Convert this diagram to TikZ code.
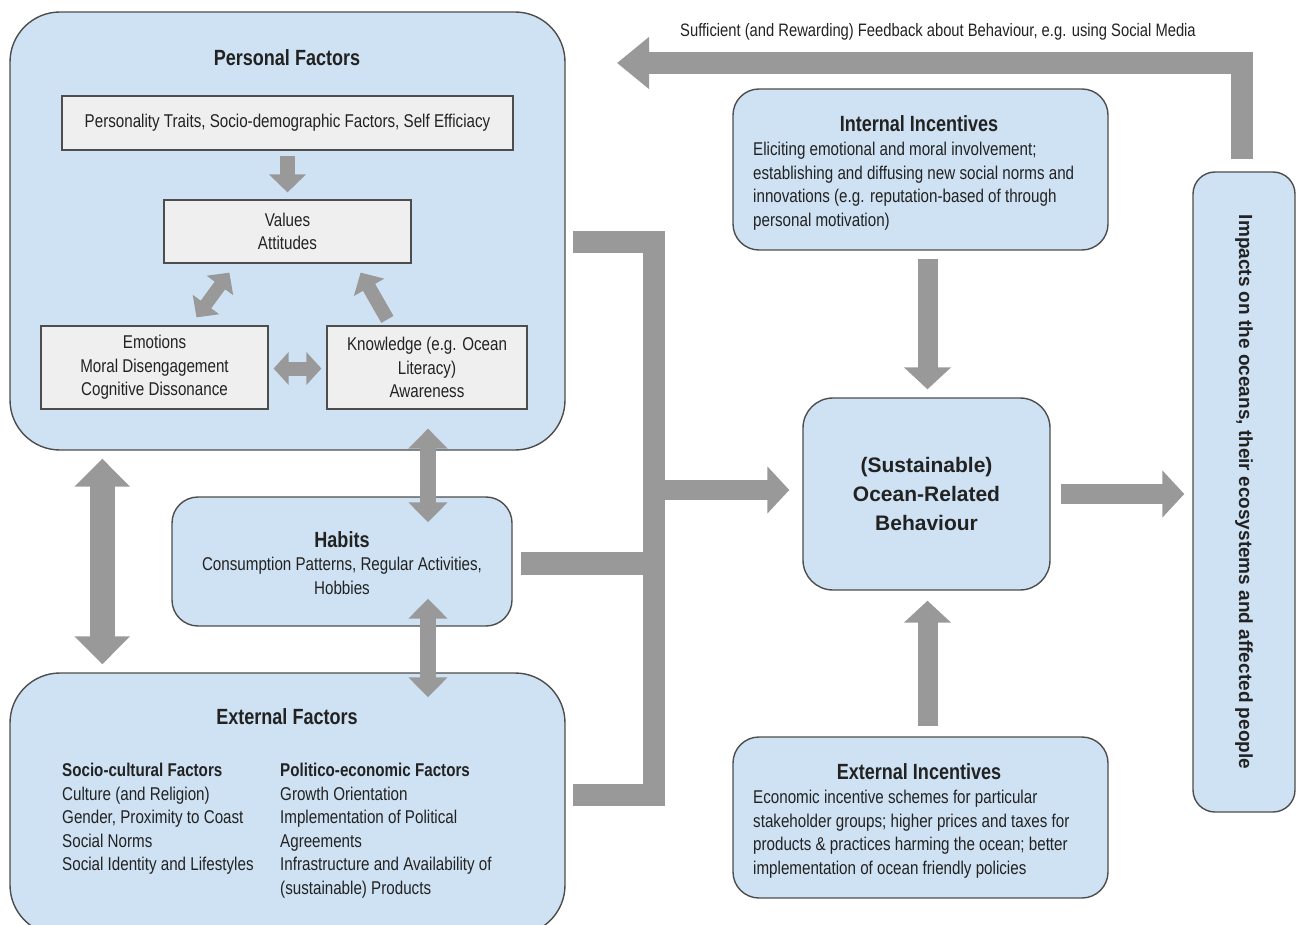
\documentclass[tikz,border=0pt]{standalone}
\usepackage{fontspec}
\setmainfont[FakeStretch=0.82]{Liberation Sans}
\newfontfamily\widefont{Liberation Sans}
\usetikzlibrary{arrows.meta,calc}
\definecolor{boxblue}{HTML}{CFE2F3}
\definecolor{boxline}{HTML}{4D4D4D}
\definecolor{innergray}{HTML}{EFEFEF}
\definecolor{arrgray}{HTML}{999999}
\definecolor{txt}{HTML}{222222}
\begin{document}
\begin{tikzpicture}[x=1pt,y=-1pt,
  bigbox/.style={draw=boxline,fill=boxblue,line width=1.4pt,rounded corners=50pt,inner sep=0pt},
  midbox/.style={draw=boxline,fill=boxblue,line width=1.4pt,rounded corners=26pt,inner sep=0pt},
  graybox/.style={draw=boxline,fill=innergray,line width=1.2pt,inner sep=0pt,align=center,text=txt,font=\fontsize{18.5}{23.5}\selectfont},
  body/.style={inner sep=0pt,text=txt,font=\fontsize{18.5}{23.5}\selectfont},
  ttl/.style={inner sep=0pt,text=txt,font=\bfseries\fontsize{22}{26}\selectfont},
  arr/.style={draw=arrgray,line width=20pt,-{Triangle[length=22pt,width=46pt]}},
  smallarr/.style={draw=arrgray,line width=15pt,-{Triangle[length=18pt,width=36pt]}},
  smalldarr/.style={draw=arrgray,line width=15pt,{Triangle[length=18pt,width=36pt]}-{Triangle[length=18pt,width=36pt]}},
  bar/.style={draw=arrgray,line width=22pt,line join=miter}
]
\useasboundingbox (0,0) rectangle (1301,925);
\begin{scope}
\clip (0,0) rectangle (1301,925);
% big boxes
\node[bigbox,minimum width=555pt,minimum height=438pt] (pers) at (287.5,231) {};
\node[bigbox,minimum width=555pt,minimum height=262pt] (ext) at (287.5,804) {};
\end{scope}
\node[ttl] (perst) at (287,58) {Personal Factors};
\node[graybox,minimum width=451pt,minimum height=54pt] (pt) at (287.5,123) {Personality Traits, Socio-demographic Factors, Self Efficiacy};
\node[graybox,minimum width=247pt,minimum height=63pt] (val) at (287.5,231.5) {Values\\Attitudes};
\node[graybox,minimum width=227pt,minimum height=83pt] (emo) at (154.5,367.5) {Emotions\\Moral Disengagement\\Cognitive Dissonance};
\node[graybox,minimum width=200pt,minimum height=83pt] (know) at (427,367.5) {Knowledge (e.g. Ocean\\Literacy)\\Awareness};

% habits
\node[midbox,minimum width=340pt,minimum height=129pt] (hab) at (342,561.5) {};
\node[ttl] (habt) at (342,540) {Habits};
\node[body,align=center] (habb) at (342,576) {Consumption Patterns, Regular Activities,\\Hobbies};

% external factors text
\node[ttl] (extt) at (287,717) {External Factors};
\node[body,align=left,anchor=north west] (soc) at (62,763) {\textbf{Socio-cultural Factors}\\Culture (and Religion)\\Gender, Proximity to Coast\\Social Norms\\Social Identity and Lifestyles};
\node[body,align=left,anchor=north west] (pol) at (280,763) {\textbf{Politico-economic Factors}\\Growth Orientation\\Implementation of Political\\Agreements\\Infrastructure and Availability of\\(sustainable) Products};

% incentives
\node[midbox,minimum width=375pt,minimum height=161pt] (inc) at (920.5,169.5) {};
\node[ttl] (inct) at (919,124) {Internal Incentives};
\node[body,align=left,anchor=north west] (incb) at (753,142) {Eliciting emotional and moral involvement;\\establishing and diffusing new social norms and\\innovations (e.g. reputation-based of through\\personal motivation)};
\node[midbox,minimum width=375pt,minimum height=161pt] (exi) at (920.5,817.5) {};
\node[ttl] (exit) at (919,772) {External Incentives};
\node[body,align=left,anchor=north west] (exib) at (753,790) {Economic incentive schemes for particular\\stakeholder groups; higher prices and taxes for\\products \& practices harming the ocean; better\\implementation of ocean friendly policies};

% behaviour
\node[midbox,rounded corners=30pt,minimum width=247pt,minimum height=192pt,align=center,text=txt,font=\widefont\bfseries\fontsize{21}{29}\selectfont] (beh) at (926.5,494) {(Sustainable)\\Ocean-Related\\Behaviour};

% impacts
\node[midbox,rounded corners=22pt,minimum width=102pt,minimum height=640pt] (imp) at (1244,492) {};
\node[inner sep=0pt,rotate=-90,text=txt,font=\widefont\bfseries\fontsize{19}{22}\selectfont] (impt) at (1244,492) {Impacts on the oceans, their ecosystems and affected people};

% feedback
\coordinate (fbtip) at (617,63);
\node[body,font=\fontsize{18}{20}\selectfont] (fbl) at (938,32) {Sufficient (and Rewarding) Feedback about Behaviour, e.g. using Social Media};
\draw[arr,line width=22pt,line join=miter,-{Triangle[length=32pt,width=50pt]}] ($(imp.north)+(-2,-12)$) |- (fbtip);

% arrows inside personal factors
\draw[smallarr] ($(pt.south)+(0,5)$) -- ($(val.north)+(0,-7)$);
\draw[smalldarr,line width=13pt,{Triangle[length=16pt,width=32pt]}-{Triangle[length=16pt,width=32pt]}] ($(emo.north)+(42,-8)$) -- ($(val.south west)+(66,9)$);
\draw[smallarr,line width=14pt,-{Triangle[length=17pt,width=34pt]}] ($(know.north west)+(61,-6)$) -- ($(val.south east)+(-51,9)$);
\draw[smalldarr,line width=14pt,{Triangle[length=15pt,width=32pt]}-{Triangle[length=15pt,width=32pt]}] ($(emo.east)+(5,1)$) -- ($(know.west)+(-5,1)$);

% vertical double arrows
\draw[smalldarr,line width=16pt,{Triangle[length=20pt,width=38pt]}-{Triangle[length=20pt,width=38pt]}] ($(know.south)+(1,19)$) -- ($(hab.north)+(86,26)$);
\draw[smalldarr,line width=16pt,{Triangle[length=20pt,width=38pt]}-{Triangle[length=20pt,width=38pt]}] ($(hab.south)+(86,-28)$) -- ($(ext.north)+(140.5,25)$);
\draw[smalldarr,line width=25pt,{Triangle[length=28pt,width=54pt]}-{Triangle[length=28pt,width=54pt]}] ($(pers.south west)+(93,8)$) -- ($(ext.north west)+(93,-8)$);

% bracket to behaviour
\coordinate (hub) at (654,490);
\coordinate (habend) at ($(hab.east)+(8,2)$);
\draw[bar] ($(pers.east)+(7,11)$) -| (hub) |- ($(ext.east)+(7,-9)$);
\draw[bar,line width=23pt] (habend) -- (hub |- habend);
\draw[arr] (hub) -- ($(beh.west)+(-13,-4)$);

% incentive arrows
\draw[arr] ($(inc.south)+(7,8)$) -- ($(beh.north)+(1,-8)$);
\draw[arr] ($(exi.north)+(7,-10)$) -- ($(beh.south)+(1,10)$);
\draw[arr] ($(beh.east)+(10,0)$) -- ($(imp.west |- beh.east)+(-8,0)$);
\end{tikzpicture}
\end{document}
